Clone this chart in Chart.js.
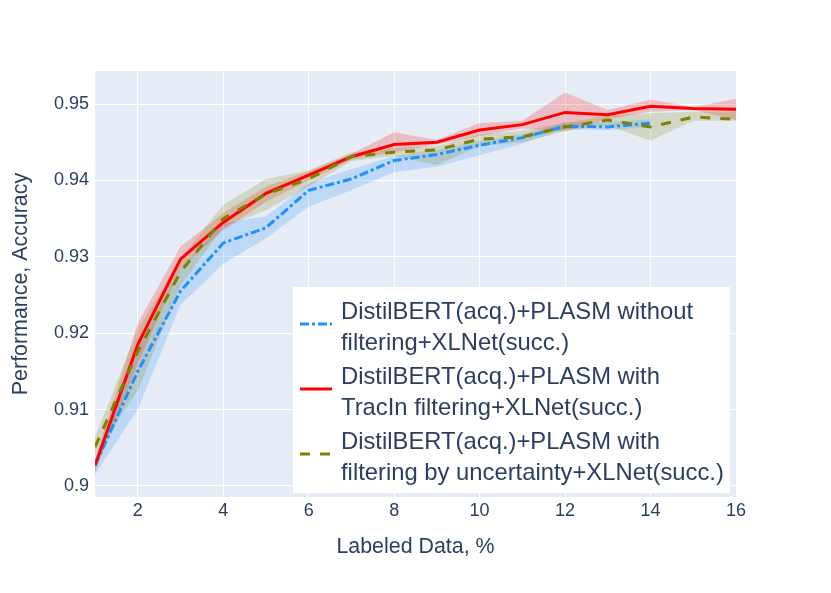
<!DOCTYPE html>
<html>
<head>
<meta charset="utf-8">
<script src="https://cdn.jsdelivr.net/npm/chart.js@4"></script>
<style>
  body { margin: 0; background: #fff; }
  #wrap { width: 831px; height: 593px; }
</style>
</head>
<body>
<div id="wrap"><canvas id="accChart" width="831" height="593"></canvas></div>
<script>
// labeled data, %
const xs = [1, 2, 3, 4, 5, 6, 7, 8, 9, 10, 11, 12, 13, 14, 15, 16];
const xTicks = [2, 4, 6, 8, 10, 12, 14, 16];
const yTicks = [0.9, 0.91, 0.92, 0.93, 0.94, 0.95];

// without filtering (only up to 14%)
const noFilter = [0.9027, 0.915, 0.9255, 0.9318, 0.9338, 0.9387, 0.9402, 0.9426, 0.9434, 0.9446, 0.9456, 0.9471, 0.947, 0.9475];
const noFilterHi = [0.9035, 0.918, 0.9285, 0.9344, 0.9353, 0.9396, 0.9415, 0.9432, 0.944, 0.9452, 0.946, 0.9476, 0.9476, 0.948];
const noFilterLo = [0.9015, 0.91, 0.9237, 0.9291, 0.9324, 0.9366, 0.9387, 0.9411, 0.9418, 0.9433, 0.9448, 0.9467, 0.9466, 0.947];

// TracIn filtering
const tracin = [0.9027, 0.9185, 0.9297, 0.9345, 0.9383, 0.9407, 0.9431, 0.9447, 0.945, 0.9466, 0.9473, 0.9489, 0.9486, 0.9497, 0.9494, 0.9493];
const tracinHi = [0.9035, 0.9213, 0.9313, 0.9357, 0.9392, 0.9412, 0.9435, 0.9463, 0.9453, 0.9475, 0.9478, 0.9515, 0.9492, 0.9506, 0.9496, 0.9507];
const tracinLo = [0.9018, 0.916, 0.9285, 0.9335, 0.9372, 0.94, 0.9427, 0.9437, 0.9447, 0.9458, 0.9468, 0.9464, 0.948, 0.949, 0.9492, 0.9479];

// filtering by uncertainty
const uncert = [0.9051, 0.9176, 0.928, 0.935, 0.9382, 0.9402, 0.9431, 0.9437, 0.944, 0.9454, 0.9457, 0.947, 0.9479, 0.947, 0.9483, 0.948];
const uncertHi = [0.9064, 0.9205, 0.9297, 0.9368, 0.9402, 0.9413, 0.9437, 0.9442, 0.9445, 0.946, 0.9465, 0.9475, 0.9485, 0.9488, 0.949, 0.949];
const uncertLo = [0.904, 0.9125, 0.9262, 0.9338, 0.9361, 0.9392, 0.9425, 0.9432, 0.942, 0.9445, 0.945, 0.9465, 0.9472, 0.9452, 0.9478, 0.9478];

const legendLines = [
  ["DistilBERT(acq.)+PLASM without", "filtering+XLNet(succ.)"],
  ["DistilBERT(acq.)+PLASM with", "TracIn filtering+XLNet(succ.)"],
  ["DistilBERT(acq.)+PLASM with", "filtering by uncertainty+XLNet(succ.)"],
];

const FONT = "'Liberation Sans', Arial, sans-serif";
const TEXT = "#2a3f5f";

function pts(arr) {
  return arr.map((v, i) => ({ x: xs[i], y: v }));
}

function meanLine(label, arr, color, dash) {
  return {
    label: label,
    data: pts(arr),
    borderColor: color,
    borderWidth: 3,
    borderDash: dash,
    pointRadius: 0,
    fill: false,
    tension: 0,
  };
}

function bandEdge(arr, fillColor, fillTo) {
  return {
    label: "",
    data: pts(arr),
    borderWidth: 0,
    borderColor: "rgba(0,0,0,0)",
    backgroundColor: fillColor,
    pointRadius: 0,
    fill: fillTo,
    tension: 0,
  };
}

const bgPlugin = {
  id: "plotBg",
  beforeDraw(chart) {
    const a = chart.chartArea;
    const c = chart.ctx;
    c.save();
    c.fillStyle = "#E5ECF6";
    c.fillRect(a.left, a.top, a.right - a.left, a.bottom - a.top);
    c.restore();
  },
};

// legend with two-line labels, bottom right inside plot
const legendPlugin = {
  id: "boxLegend",
  afterDraw(chart) {
    const a = chart.chartArea;
    const c = chart.ctx;
    const left = a.left + 198;
    const top = a.top + 216;
    const right = a.right - 6;
    const bottom = a.bottom - 4;
    c.save();
    c.fillStyle = "#ffffff";
    c.fillRect(left, top, right - left, bottom - top);
    const ds = chart.data.datasets;
    const order = [2, 1, 0];
    c.font = "23.8px " + FONT;
    c.textBaseline = "alphabetic";
    c.fillStyle = TEXT;
    for (let i = 0; i < order.length; i++) {
      const d = ds[order[i]];
      const ly = top + 37 + 65 * i;
      c.beginPath();
      c.strokeStyle = d.borderColor;
      c.lineWidth = 3;
      c.setLineDash(d.borderDash || []);
      c.moveTo(left + 7, ly);
      c.lineTo(left + 39, ly);
      c.stroke();
      c.setLineDash([]);
      c.fillText(legendLines[i][0], left + 48, top + 32 + 65 * i);
      c.fillText(legendLines[i][1], left + 48, top + 63 + 65 * i);
    }
    c.restore();
  },
};

const ctx = document.getElementById("accChart");
new Chart(ctx, {
  type: "line",
  data: {
    datasets: [
      meanLine("uncertainty", uncert, "#808000", [10, 10]),
      meanLine("tracin", tracin, "#ff0000", []),
      meanLine("without", noFilter, "#1e90ff", [9, 3, 3, 3]),
      bandEdge(uncertHi, "rgba(128,128,0,0.2)", "+1"),
      bandEdge(uncertLo, "rgba(128,128,0,0.2)", false),
      bandEdge(tracinHi, "rgba(255,0,0,0.2)", "+1"),
      bandEdge(tracinLo, "rgba(255,0,0,0.2)", false),
      bandEdge(noFilterHi, "rgba(30,144,255,0.2)", "+1"),
      bandEdge(noFilterLo, "rgba(30,144,255,0.2)", false),
    ],
  },
  options: {
    responsive: false,
    animation: false,
    devicePixelRatio: 1,
    layout: { padding: { left: 0, right: 95, top: 71, bottom: 0 } },
    plugins: {
      legend: { display: false },
      tooltip: { enabled: false },
    },
    scales: {
      x: {
        type: "linear",
        min: 1,
        max: 16,
        afterFit(scale) { scale.height = 96; },
        afterBuildTicks(scale) { scale.ticks = xTicks.map((v) => ({ value: v })); },
        grid: { color: "#ffffff", lineWidth: 1, drawTicks: false },
        border: { display: false },
        ticks: {
          color: TEXT,
          font: { family: FONT, size: 18 },
          padding: 3,
          maxRotation: 0,
          callback: (v) => String(v),
        },
        title: {
          display: true,
          text: "Labeled Data, %",
          color: TEXT,
          font: { family: FONT, size: 21.4 },
          padding: { top: 0, bottom: 33 },
        },
      },
      y: {
        type: "linear",
        min: 0.89856,
        max: 0.95432,
        afterFit(scale) { scale.width = 95; },
        afterBuildTicks(scale) { scale.ticks = yTicks.map((v) => ({ value: v })); },
        grid: { color: "#ffffff", lineWidth: 1, drawTicks: false },
        border: { display: false },
        ticks: {
          color: TEXT,
          font: { family: FONT, size: 18 },
          padding: 6,
          callback: (v) => String(Math.round(v * 100) / 100),
        },
        title: {
          display: true,
          text: "Performance, Accuracy",
          color: TEXT,
          font: { family: FONT, size: 21.4 },
          padding: { top: 8, bottom: 0 },
        },
      },
    },
  },
  plugins: [bgPlugin, legendPlugin],
});
</script>
</body>
</html>
